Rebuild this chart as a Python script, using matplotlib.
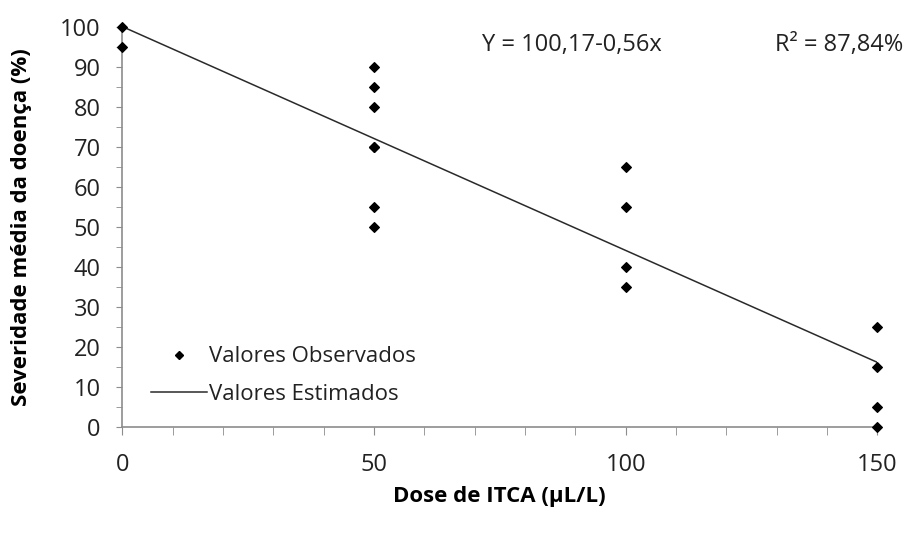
import matplotlib.pyplot as plt
from matplotlib.lines import Line2D

# dados observados
dose = [0, 0, 50, 50, 50, 50, 50, 50, 50, 100, 100, 100, 100, 150, 150, 150, 150]
severidade = [100, 95, 90, 85, 80, 70, 70, 55, 50, 65, 55, 40, 35, 25, 15, 5, 0]

# modelo ajustado
a = 100.17
b = -0.56
dose_linha = [0, 150]
estimado = [a + b * d for d in dose_linha]

plt.rcParams['font.family'] = ['Open Sans', 'DejaVu Sans']

fig = plt.figure(figsize=(9.12, 5.34), dpi=100)
ax = fig.add_axes([0.134, 0.2004, 0.828, 0.7486])

ax.plot(dose_linha, estimado, color="#2a2a2a", lw=1.1)
ax.scatter(dose, severidade, marker="D", s=24, color="black", zorder=3, clip_on=False)

ax.set_xlim(0, 150)
ax.set_ylim(0, 100)
ax.set_xticks([0, 50, 100, 150])
ax.set_xticks(range(0, 151, 10), minor=True)
ax.set_yticks(range(0, 101, 10))
ax.set_yticks(range(0, 101, 5), minor=True)

for s in ["top", "right"]:
    ax.spines[s].set_visible(False)
for s in ["left", "bottom"]:
    ax.spines[s].set_color("#8c8c8c")
    ax.spines[s].set_linewidth(1.2)

ax.tick_params(axis="x", which="both", direction="out", length=6, color="#8c8c8c", labelsize=17, pad=13, labelcolor="#222222")
ax.tick_params(axis="y", which="both", direction="out", length=4.5, color="#8c8c8c", labelsize=17, pad=11, labelcolor="#222222")

ax.set_xlabel("Dose de ITCA (µL/L)", fontsize=16, fontweight="bold", labelpad=6)
ax.set_ylabel("Severidade média da doença (%)", fontsize=16, fontweight="bold", labelpad=20)

ax.text(0.477, 0.955, "Y = 100,17-0,56x", transform=ax.transAxes, fontsize=17, va="center", ha="left", color="#222222")
ax.text(0.865, 0.955, "R² = 87,84%", transform=ax.transAxes, fontsize=17, va="center", ha="left", color="#222222")

handles = [Line2D([], [], marker="D", ls="none", color="black", markersize=4.5),
           Line2D([], [], color="#2a2a2a", lw=1.1)]
ax.legend(handles, ["Valores Observados", "Valores Estimados"], loc="lower left",
          bbox_to_anchor=(0.012, 0.005), frameon=False, fontsize=16,
          handlelength=2.5, handletextpad=0.1, labelspacing=0.75, labelcolor="#222222")

fig.savefig("out.png", dpi=100)
